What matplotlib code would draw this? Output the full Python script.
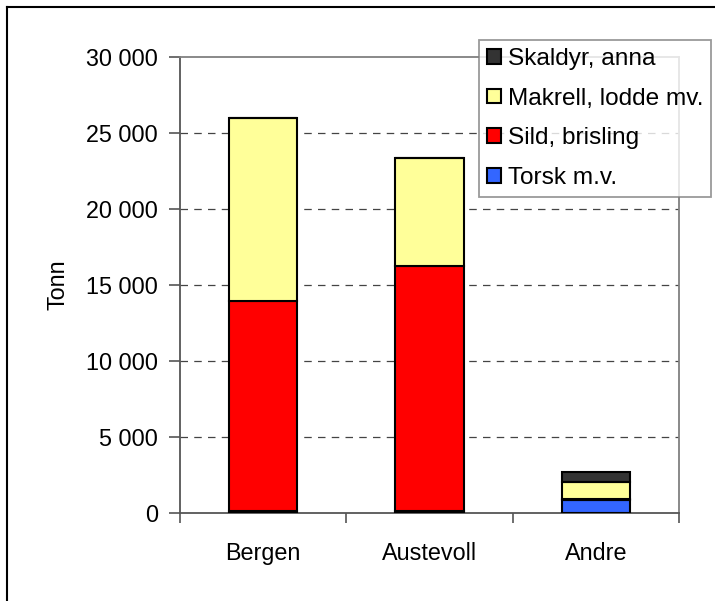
import matplotlib
matplotlib.use("Agg")
import matplotlib.pyplot as plt
import numpy as np
from matplotlib.ticker import FuncFormatter, FixedLocator
from matplotlib.lines import Line2D

plt.rcParams['font.family'] = ['Liberation Sans', 'DejaVu Sans']

categories = ["Bergen", "Austevoll", "Andre"]
series_names = ["Torsk m.v.", "Sild, brisling", "Makrell, lodde mv.", "Skaldyr, anna"]
torsk = [100, 100, 880]
sild = [13850, 16150, 60]
makrell = [12050, 7100, 1100]
skaldyr = [0, 0, 660]
colors = ["#3366FF", "#FF0000", "#FFFF99", "#333333"]
yticks = [0, 5000, 10000, 15000, 20000, 25000, 30000]

FS = 16.8
LFS = 17.6

fig = plt.figure(figsize=(7.15, 6.01), dpi=100)
ax = fig.add_axes([180/715, 1-513/601, (679-180)/715, (513-57)/601])

x = np.arange(len(categories))
bottom = np.zeros(len(categories))
handles = []
for name, vals, c in zip(series_names, [torsk, sild, makrell, skaldyr], colors):
    b = ax.bar(x, vals, width=0.41, bottom=bottom, color=c, edgecolor="black",
               linewidth=1.5, label=name, zorder=3)
    bottom += np.array(vals)
    handles.append(b)

ax.set_xlim(-0.5, 2.5)
ax.set_ylim(0, 30000)
ax.set_yticks(yticks)
ax.yaxis.set_major_formatter(FuncFormatter(lambda v, p: f"{int(v):,}".replace(",", " ")))
ax.set_xticks(x)
ax.set_xticklabels(categories)
ax.xaxis.set_minor_locator(FixedLocator([-0.5, 0.5, 1.5, 2.5]))
ax.tick_params(axis='x', which='major', length=0, pad=21, labelsize=FS)
ax.tick_params(axis='x', which='minor', length=7, width=1.2, color="#555555", direction='out')
ax.tick_params(axis='y', length=8, width=1.2, color="#555555", direction='out', labelsize=FS, pad=8)

for yv in yticks[1:-1]:
    ax.axhline(yv, color="#444444", linestyle=(0, (6, 5)), linewidth=0.9, zorder=1)

for s in ['left', 'bottom']:
    ax.spines[s].set_color("#555555")
    ax.spines[s].set_linewidth(1.3)
for s in ['top', 'right']:
    ax.spines[s].set_color("#808080")
    ax.spines[s].set_linewidth(1.3)

ax.set_ylabel("Tonn", fontsize=FS, labelpad=12)

leg = fig.legend(handles[::-1], series_names[::-1], loc='upper left',
                 bbox_to_anchor=(479/715, 1-40/601), frameon=True, fancybox=False,
                 fontsize=LFS, handlelength=0.55, handleheight=0.55, handletextpad=0.3,
                 labelspacing=0.72, borderpad=0.33, borderaxespad=0)
leg.get_frame().set_edgecolor("#808080")
leg.get_frame().set_linewidth(1.3)
leg.set_zorder(10)

# figure border
fig.add_artist(Line2D([7/715, 1], [1-7/601, 1-7/601], color="black", lw=1.5, transform=fig.transFigure))
fig.add_artist(Line2D([7/715, 7/715], [0, 1-7/601], color="black", lw=1.5, transform=fig.transFigure))

fig.savefig("out.png", dpi=100)
